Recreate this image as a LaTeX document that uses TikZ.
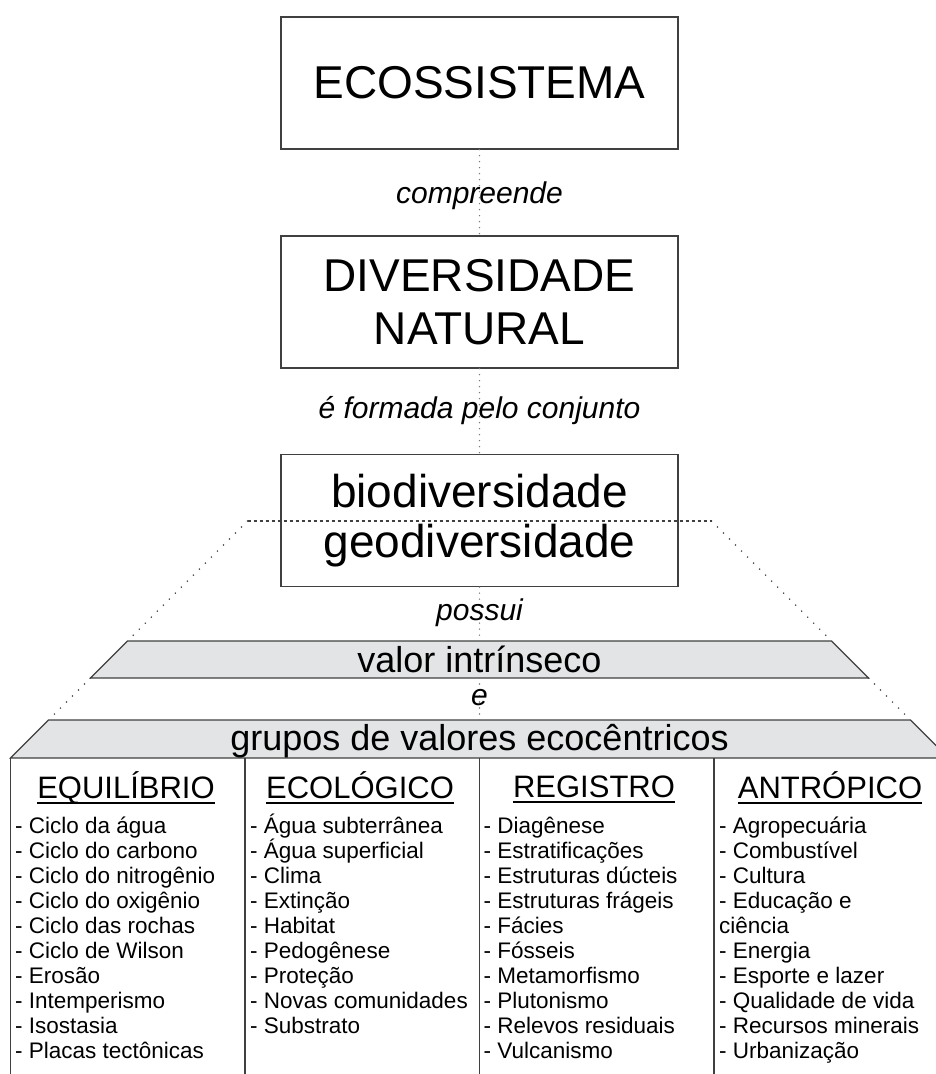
\documentclass[tikz,border=0pt]{standalone}
\usepackage{fontspec}
\setmainfont{Liberation Sans}
\usetikzlibrary{positioning}
\definecolor{boxline}{HTML}{404040}
\definecolor{bandfill}{HTML}{E2E4E5}
\definecolor{dotgray}{HTML}{7A7A7A}
\newcommand{\headline}[1]{\setbox0\hbox{#1}\rlap{\rule[-5.5pt]{\wd0}{1.2pt}}\box0}

\begin{document}
\begin{tikzpicture}[x=1pt,y=-1pt,
    box/.style={
      draw=boxline,
      line width=1.3pt,
      minimum width=397pt,
      minimum height=132pt,
      inner sep=0pt,
      align=center,
      font=\fontsize{46}{53}\selectfont
    },
    verb/.style={inner sep=0pt, anchor=base, font=\fontsize{30}{34}\selectfont\itshape},
    band/.style={draw=boxline, line width=1.2pt, fill=bandfill},
    bandtext/.style={inner sep=0pt, anchor=base, font=\fontsize{36}{40}\selectfont},
    head/.style={inner sep=0pt, anchor=base, font=\fontsize{31}{35}\selectfont},
    item/.style={inner sep=0pt, anchor=base west, font=\fontsize{22.5}{25}\selectfont},
    link/.style={draw=dotgray, line width=1.6pt, line cap=round, dash pattern=on 0pt off 6pt},
    slant/.style={draw=boxline, line width=1.7pt, line cap=round, dash pattern=on 0pt off 8.5pt},
    rim/.style={draw=boxline, line width=1.5pt, dash pattern=on 3pt off 3pt},
    colline/.style={draw=boxline, line width=1.3pt}
    ]
    \useasboundingbox (0,0) rectangle (936,1074);

    % the three boxes
    \node[box] (eco) at (479.5,83) {ECOSSISTEMA};
    \node[box] (div) at (479.5,302) {DIVERSIDADE\\NATURAL};
    \node[box, font=\fontsize{46}{50}\selectfont] (bio) at (479.5,520.5) {biodiversidade\\geodiversidade};

    % corners of the two bands
    \coordinate (vtl) at (127.5,641);
    \coordinate (vtr) at (831.5,641);
    \coordinate (vbl) at (90.5,678);
    \coordinate (vbr) at (868.5,678);
    \coordinate (gtl) at (48.5,720);
    \coordinate (gtr) at (910.5,720);
    \coordinate (gbl) at (10.5,758);
    \coordinate (gbr) at (948.5,758);
    \coordinate (vtop) at (479.5,641);
    \coordinate (vbot) at (479.5,678);
    \coordinate (gtop) at (479.5,720);

    \path[band] (vtl) -- (vtr) -- (vbr) -- (vbl) -- cycle;
    \path[band] (gtl) -- (gtr) -- (gbr) -- (gbl) -- cycle;

    % dotted rim of the pyramid
    \coordinate (rl) at (247.5,521);
    \coordinate (rr) at (711.5,521);
    \path[rim] (rl) -- (rr);
    \path[slant] (rl) -- (vtl);
    \path[slant] (rr) -- (vtr);
    \path[slant] (vbl) -- (gtl);
    \path[slant] (vbr) -- (gtr);

    % vertical links
    \path[link] (eco.south) -- (div.north);
    \path[link] (div.south) -- (bio.north);
    \path[link] (bio.south) -- (vtop);
    \path[link] (vbot) -- (gtop);

    \node[verb] (comp) at (479.5,203) {compreende};
    \node[verb] (form) at (479.5,418) {é formada pelo conjunto};
    \node[verb] (poss) at (479.5,620) {possui};
    \node[verb] (conj) at (479.5,705) {e};

    \node[bandtext] (valor) at (479.5,672) {valor intrínseco};
    \node[bandtext] (grupos) at (479.5,750) {grupos de valores ecocêntricos};

    % table
    \foreach \x in {10.5,245,479.5,714,948.5}
      \draw[colline] (\x,758) -- (\x,1080);

    \node[head] (equi) at (126,798) {\headline{EQUILÍBRIO}};
    \node[head] (ecol) at (360,798) {\headline{ECOLÓGICO}};
    \node[head] (regi) at (594,797) {\headline{REGISTRO}};
    \node[head] (antr) at (830,798) {\headline{ANTRÓPICO}};

    \foreach \t [count=\i from 0] in {- Ciclo da água, - Ciclo do carbono,
        - Ciclo do nitrogênio, - Ciclo do oxigênio, - Ciclo das rochas,
        - Ciclo de Wilson, - Erosão, - Intemperismo, - Isostasia,
        - Placas tectônicas}
      \node[item] (equi\i) at (15,833+25*\i) {\t};
    \foreach \t [count=\i from 0] in {- Água subterrânea, - Água superficial,
        - Clima, - Extinção, - Habitat, - Pedogênese, - Proteção,
        - Novas comunidades, - Substrato}
      \node[item] (ecol\i) at (250,833+25*\i) {\t};
    \foreach \t [count=\i from 0] in {- Diagênese, - Estratificações,
        - Estruturas dúcteis, - Estruturas frágeis, - Fácies, - Fósseis,
        - Metamorfismo, - Plutonismo, - Relevos residuais, - Vulcanismo}
      \node[item] (regi\i) at (483.5,833+25*\i) {\t};
    \foreach \t [count=\i from 0] in {- Agropecuária, - Combustível,
        - Cultura, - Educação e, ciência, - Energia, - Esporte e lazer,
        - Qualidade de vida, - Recursos minerais, - Urbanização}
      \node[item] (antr\i) at (719,833+25*\i) {\t};
\end{tikzpicture}
\end{document}
